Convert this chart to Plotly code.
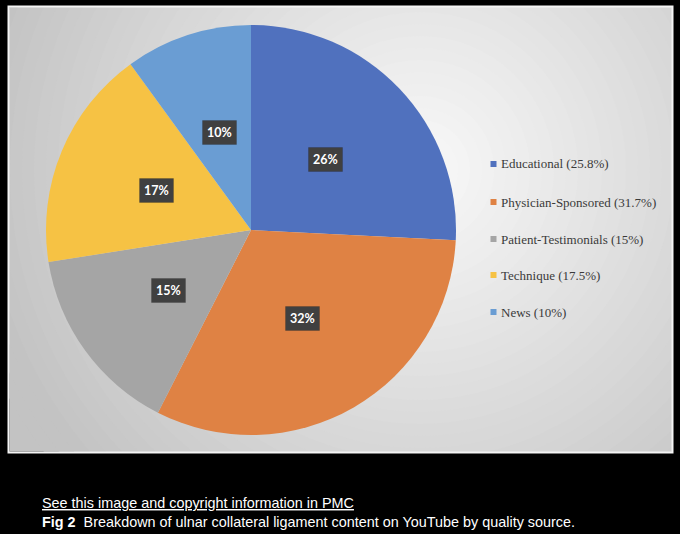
import math
import plotly.graph_objects as go

# ---------------- data ----------------
categories = ["Educational", "Physician-Sponsored", "Patient-Testimonials", "Technique", "News"]
values = [25.8, 31.7, 15.0, 17.5, 10.0]
legend_labels = ["Educational (25.8%)", "Physician-Sponsored (31.7%)", "Patient-Testimonials (15%)",
                 "Technique (17.5%)", "News (10%)"]
data_labels = ["26%", "32%", "15%", "17%", "10%"]
colors = ["#5071BE", "#DF8244", "#A5A5A5", "#F6C244", "#6A9DD3"]

W, H = 680, 534
def px(x):
    return x / W
def py(y):
    return 1 - y / H

# pie geometry (pixels)
cx, cy, r = 251, 230, 205

fig = go.Figure()

# invisible cartesian trace so the background axes exist
fig.add_trace(go.Scatter(x=[], y=[], showlegend=False, hoverinfo="skip"))

fig.add_trace(go.Pie(
    labels=categories, values=values, sort=False, direction="clockwise", rotation=0,
    marker=dict(colors=colors, line=dict(width=0)),
    textinfo="none", hoverinfo="label+percent", showlegend=False,
    domain=dict(x=[px(cx - r), px(cx + r)], y=[py(cy + r), py(cy - r)]),
))

shapes = []
# radial gradient background (clipped to panel axes)
gx, gy = 420, 170
Rmax, step = 470, 12
R = Rmax
while R > 0:
    t = min(R / 450.0, 1.0)
    v = int(round(250 - t * 55))
    shapes.append(dict(type="circle", xref="x", yref="y", x0=gx - R, x1=gx + R, y0=gy - R, y1=gy + R,
                       fillcolor=f"rgb({v},{v},{v})", line=dict(width=0), layer="below"))
    R -= step

# panel white border
shapes.append(dict(type="rect", xref="paper", yref="paper", x0=px(8.5), x1=px(672.5), y0=py(452.5), y1=py(6.5),
                   line=dict(color="#f4f4f4", width=2), fillcolor="rgba(0,0,0,0)", layer="above"))

# legend box
lx0, lx1, ly0, ly1 = 473, 663, 145, 330
shapes.append(dict(type="rect", xref="paper", yref="paper", x0=px(lx0), x1=px(lx1), y0=py(ly1), y1=py(ly0),
                   fillcolor="rgba(244,244,244,0.85)", line=dict(width=0), layer="below"))

annotations = []
row_y = [164, 202, 239, 275, 312]
for lab, col, yy in zip(legend_labels, colors, row_y):
    shapes.append(dict(type="rect", xref="paper", yref="paper", x0=px(490.5), x1=px(496.5),
                       y0=py(yy + 3), y1=py(yy - 3), fillcolor=col, line=dict(width=0), layer="above"))
    annotations.append(dict(x=px(499), y=py(yy), xref="paper", yref="paper", text=lab, showarrow=False,
                            xanchor="left", yanchor="middle",
                            font=dict(family="Liberation Serif", size=13, color="#3a3a3a")))

# data labels at half radius along each slice's mid-angle
total = sum(values)
cum = 0.0
for v, t in zip(values, data_labels):
    mid = (cum + v / 2) / total * 2 * math.pi
    cum += v
    lxp = cx + 0.5 * r * math.sin(mid)
    lyp = cy - 0.5 * r * math.cos(mid)
    annotations.append(dict(x=px(lxp), y=py(lyp), xref="paper", yref="paper", text=f"<b>{t}</b>",
                            showarrow=False, xanchor="center", yanchor="middle",
                            bgcolor="#404040", borderpad=4, bordercolor="rgba(0,0,0,0.15)", borderwidth=1,
                            font=dict(family="Lato", size=12.5, color="white")))

# caption
annotations.append(dict(x=px(40), y=py(503), xref="paper", yref="paper",
                        text="<u>See this image and copyright information in PMC</u>", showarrow=False,
                        xanchor="left", yanchor="middle",
                        font=dict(family="Liberation Sans", size=14.4, color="white")))
annotations.append(dict(x=px(40), y=py(522), xref="paper", yref="paper",
                        text="<b>Fig 2</b>  Breakdown of ulnar collateral ligament content on YouTube by quality source.",
                        showarrow=False, xanchor="left", yanchor="middle",
                        font=dict(family="Liberation Sans", size=14.4, color="white")))

fig.update_layout(
    width=W, height=H, margin=dict(l=0, r=0, t=0, b=0),
    paper_bgcolor="black", plot_bgcolor="rgb(195,195,195)",
    xaxis=dict(domain=[px(9.5), px(671.5)], range=[9.5, 671.5], visible=False, fixedrange=True),
    yaxis=dict(domain=[py(451.5), py(7.5)], range=[451.5, 7.5], visible=False, fixedrange=True),
    shapes=shapes, annotations=annotations, showlegend=False,
)

fig.write_html("out.html", config={"displayModeBar": False},
               post_script="document.body.style.margin='0px';document.body.style.overflow='hidden';document.body.style.background='black';")
